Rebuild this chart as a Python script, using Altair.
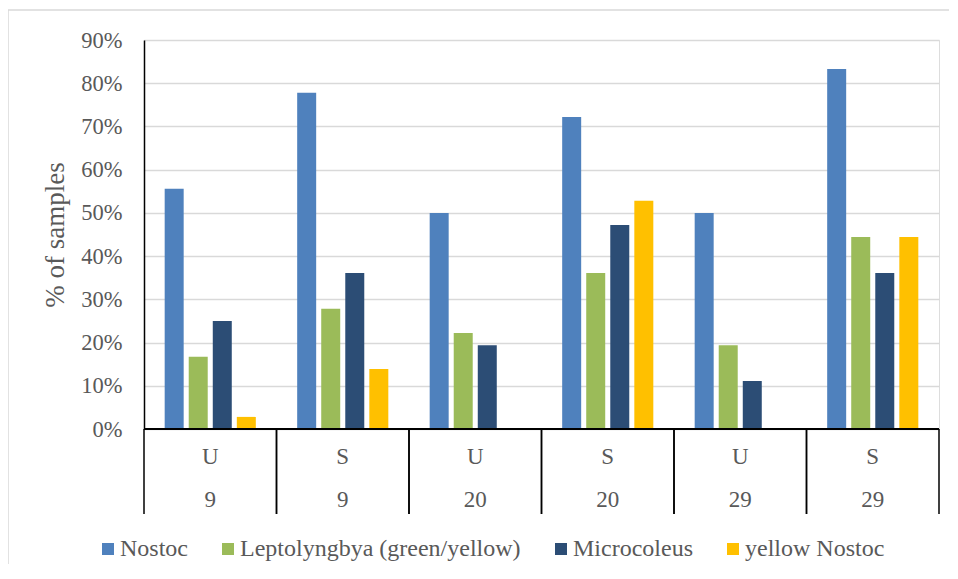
import altair as alt
import pandas as pd

groups = ["U9", "S9", "U20", "S20", "U29", "S29"]
row1_labels = ["U", "S", "U", "S", "U", "S"]
row2_labels = ["9", "9", "20", "20", "29", "29"]
series = ["Nostoc", "Leptolyngbya (green/yellow)", "Microcoleus", "yellow Nostoc"]
colors = ["#4F81BD", "#9BBB59", "#2C4D75", "#FFC000"]

nostoc = [0.556, 0.778, 0.500, 0.722, 0.500, 0.833]
lepto = [0.167, 0.278, 0.222, 0.361, 0.194, 0.444]
micro = [0.250, 0.361, 0.194, 0.472, 0.111, 0.361]
yellow = [0.028, 0.139, 0.0, 0.528, 0.0, 0.444]
values = [nostoc, lepto, micro, yellow]

rows = []
for s, vals in zip(series, values):
    for g, v in zip(groups, vals):
        rows.append({"group": g, "series": s, "value": v})
df = pd.DataFrame(rows)
cats = pd.DataFrame({"group": groups, "r1": row1_labels, "r2": row2_labels})

W, H = 795, 389
FONT = "Liberation Serif"
TXT = "#595959"

xscale = alt.Scale(domain=groups, paddingInner=0, paddingOuter=0)

bars = alt.Chart(df).mark_bar().encode(
    x=alt.X("group:N", scale=xscale, sort=groups,
            axis=alt.Axis(labels=False, ticks=False, title=None, domain=False, grid=False)),
    xOffset=alt.XOffset("series:N", sort=series,
                        scale=alt.Scale(domain=series, paddingInner=0.21, paddingOuter=0.86)),
    y=alt.Y("value:Q", scale=alt.Scale(domain=[0, 0.9], nice=False),
            axis=alt.Axis(values=[i / 10 for i in range(10)], format=".0%",
                          title="% of samples", titleFont=FONT, titleFontSize=27,
                          titleFontWeight="normal", titleColor=TXT, titlePadding=11,
                          labelFont=FONT, labelFontSize=22.5, labelColor=TXT,
                          labelPadding=22, ticks=False, domain=True,
                          domainColor="#000000", domainWidth=1.5,
                          grid=True, gridColor="#D9D9D9", gridWidth=1.5)),
    color=alt.Color("series:N", sort=series,
                    scale=alt.Scale(domain=series, range=colors),
                    legend=alt.Legend(title=None, orient="none", direction="horizontal",
                                      legendX=-48, legendY=497, padding=0,
                                      symbolType="square", symbolSize=144,
                                      symbolStrokeWidth=0, labelFont=FONT,
                                      labelFontSize=24, labelColor=TXT,
                                      labelOffset=0, columnPadding=28,
                                      labelLimit=400)),
)

base_cat = alt.Chart(cats).encode(x=alt.X("group:N", scale=xscale, sort=groups))

row1 = base_cat.mark_text(font=FONT, fontSize=23, color=TXT, baseline="middle").encode(
    y=alt.value(H + 28), text="r1:N")
row2 = base_cat.mark_text(font=FONT, fontSize=23, color=TXT, baseline="middle").encode(
    y=alt.value(H + 71), text="r2:N")

sep_left = alt.Chart(cats).mark_rule(color="#000000", strokeWidth=1.5).encode(
    x=alt.X("group:N", scale=xscale, sort=groups, bandPosition=0),
    y=alt.value(H), y2=alt.value(H + 85))
sep_right = alt.Chart(cats).mark_rule(color="#000000", strokeWidth=1.5).encode(
    x=alt.X("group:N", scale=xscale, sort=groups, bandPosition=1),
    y=alt.value(H), y2=alt.value(H + 85))

zero_line = alt.Chart(pd.DataFrame({"v": [0.0]})).mark_rule(color="#000000", strokeWidth=2).encode(
    y="v:Q", x=alt.value(0), x2=alt.value(W))

frame = alt.Chart(pd.DataFrame({"a": [1]})).mark_rect(
    fill=None, stroke="#D9D9D9", strokeWidth=1.5).encode(
    x=alt.value(-136), x2=alt.value(W + 30), y=alt.value(-30), y2=alt.value(H + 160))

chart = alt.layer(frame, bars, zero_line, sep_left, sep_right, row1, row2).resolve_scale(
    x="shared").properties(
    width=W, height=H,
    padding={"left": 136, "top": 32, "right": 10, "bottom": 135},
    autosize=alt.AutoSizeParams(type="none"),
).configure_view(stroke=None).configure(
    background="#FFFFFF", font=FONT
).configure_legend(labelFont=FONT, labelFontSize=24, labelColor=TXT)

chart.save("out.html", embed_options={"renderer": "svg", "actions": False})
